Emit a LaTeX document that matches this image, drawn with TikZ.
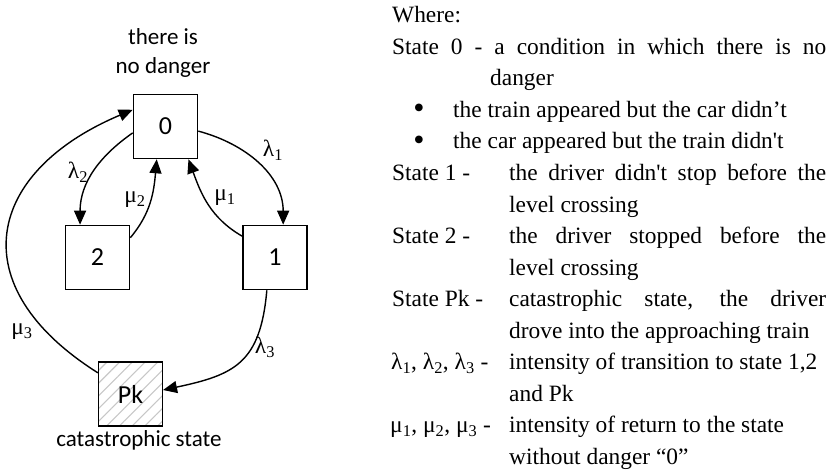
\documentclass[tikz,border=0pt]{standalone}
\usepackage{fontspec}
\setmainfont{Liberation Serif}
\newfontfamily\calib{Carlito}
\usetikzlibrary{arrows.meta,patterns.meta}
\begin{document}
\begin{tikzpicture}[x=1pt,y=1pt,
  state/.style={draw,line width=1.6pt,fill=white,minimum size=64pt,inner sep=0pt,font=\calib\fontsize{26}{30}\selectfont},
  captxt/.style={font=\calib\fontsize{23}{28}\selectfont,inner sep=0pt,anchor=base},
  arr/.style={line width=1.4pt,-{Triangle[length=14pt,width=12pt]}},
  lab/.style={font=\fontsize{23.4}{28}\selectfont,inner sep=0pt},
  bul/.style={font=\fontsize{32}{32}\selectfont,inner sep=0pt},
  txt/.style={font=\fontsize{23.4}{28}\selectfont,inner sep=0pt,anchor=base west}]
\useasboundingbox (0,0) rectangle (834,469);

% states
\node[state] (b0) at (165.5,342.5) {0};
\node[state] (b2) at (97.5,211.5) {2};
\node[state] (b1) at (275,211.5) {1};
\node[state,pattern={Lines[angle=45,distance=9pt,line width=1.1pt]},pattern color=black!22] (pk) at (130.5,75) {};
\node[font=\calib\fontsize{26}{30}\selectfont,inner sep=0pt] (pkl) at (pk.center) {Pk};

% captions
\node[captxt] (c0a) at (163,424) {there is};
\node[captxt] (c0b) at (163,395) {no danger};
\node[captxt] (cpk) at (139,22.3) {catastrophic state};

% transitions
\draw[arr] (b0.-8) to[out=-15,in=90] (b1.76);
\draw[arr] (b0.191) to[out=215,in=90] (b2.118);
\draw[arr] (b2.31) to[out=50,in=-95] (b0.-105);
\draw[arr] (b1.147) to[out=150,in=-70] (b0.-55);
\draw[arr] (b1.-104) to[out=-95,in=12,looseness=1.3] (pk.7);
\draw[arr] (pk.147) .. controls +(-138,87) and +(-147,-62) .. (b0.153);

% labels
\node[lab] (l1) at (273,319) {λ\textsubscript{1}};
\node[lab] (l2) at (78,297) {λ\textsubscript{2}};
\node[lab] (m2) at (135,269) {μ\textsubscript{2}};
\node[lab] (m1) at (225,271) {μ\textsubscript{1}};
\node[lab] (m3) at (22,137) {μ\textsubscript{3}};
\node[lab] (l3) at (265,122) {λ\textsubscript{3}};

% legend text
\node[txt] (t1) at (392,446) {Where:};
\node[txt] (t2) at (392,414.5) {\makebox[434pt][s]{State 0 - a condition in which there is no}};
\node[txt] (t3) at (490,383) {danger};
\node[bul] (bu1) at (419,357.5) {\textbullet};
\node[txt] (t4) at (453,351.5) {the train appeared but the car didn’t};
\node[bul] (bu2) at (419,326) {\textbullet};
\node[txt] (t5) at (453,320) {the car appeared but the train didn\textquotesingle t};
\node[txt] (s1) at (392,288.5) {State 1 -};
\node[txt] (t6) at (509,288.5) {\makebox[317pt][s]{the driver didn\textquotesingle t stop before the}};
\node[txt] (t7) at (509,257) {level crossing};
\node[txt] (s2) at (392,225.5) {State 2 -};
\node[txt] (t8) at (509,225.5) {\makebox[317pt][s]{the driver stopped before the}};
\node[txt] (t9) at (509,194) {level crossing};
\node[txt] (s3) at (392,162.5) {State Pk -};
\node[txt] (t10) at (509,162.5) {\makebox[317pt][s]{catastrophic state, the driver}};
\node[txt] (t11) at (509,131) {drove into the approaching train};
\node[txt] (s4) at (391,99.5) {λ\textsubscript{1}, λ\textsubscript{2}, λ\textsubscript{3} -};
\node[txt] (t12) at (509,99.5) {intensity of transition to state 1,2};
\node[txt] (t13) at (509,68) {and Pk};
\node[txt] (s5) at (390,36.5) {μ\textsubscript{1}, μ\textsubscript{2}, μ\textsubscript{3} -};
\node[txt] (t14) at (509,36.5) {intensity of return to the state};
\node[txt] (t15) at (509,5) {without danger “0”};
\end{tikzpicture}
\end{document}
